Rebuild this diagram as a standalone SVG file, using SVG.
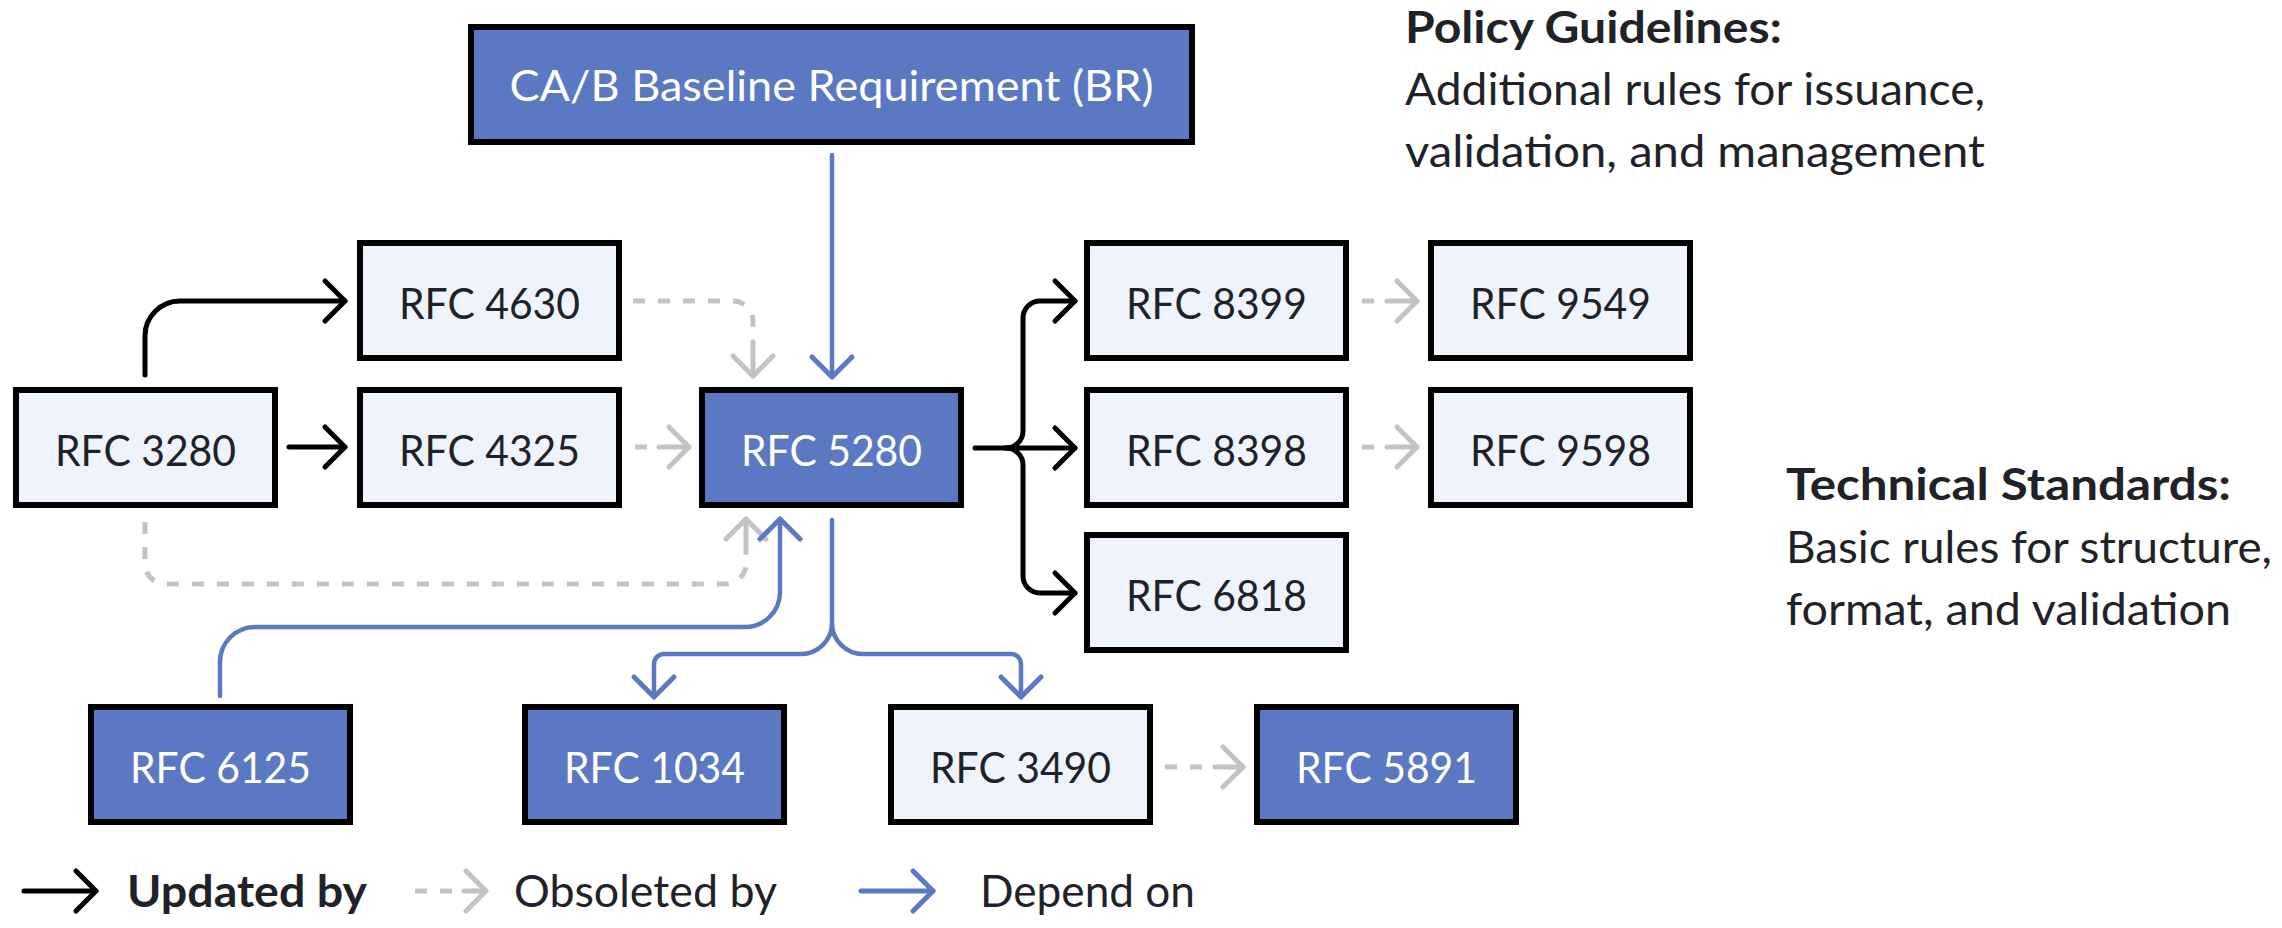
<svg xmlns="http://www.w3.org/2000/svg" width="2282" height="928" viewBox="0 0 2282 928">
<style>
.box rect{stroke:#000;stroke-width:6}
.light rect{fill:#eff3fc}
.blue rect{fill:#5b79c2}
.lbl{font-family:Lato,"Liberation Sans",sans-serif;font-size:43px;text-anchor:middle}
.light .lbl{fill:#1f2328}
.blue .lbl{fill:#ffffff}
.txt{font-family:Lato,"Liberation Sans",sans-serif;font-size:44px;fill:#1f2328}
.b{font-weight:bold}
.k{fill:none;stroke:#000;stroke-width:5;stroke-linecap:round;stroke-linejoin:round}
.g{fill:none;stroke:#c1c3c7;stroke-width:5;stroke-dasharray:12 13}
.gs{fill:none;stroke:#c1c3c7;stroke-width:5;stroke-linecap:round}
.u{fill:none;stroke:#5b79c2;stroke-width:4.5;stroke-linecap:round;stroke-linejoin:round}
</style>
<defs>
<marker id="ak" markerUnits="userSpaceOnUse" orient="auto" refX="0" refY="0" overflow="visible" markerWidth="1" markerHeight="1"><path d="M-20,-20 L0,0 L-20,20" fill="none" stroke="#000" stroke-width="5" stroke-linecap="round" stroke-linejoin="round"/></marker>
<marker id="ag" markerUnits="userSpaceOnUse" orient="auto" refX="0" refY="0" overflow="visible" markerWidth="1" markerHeight="1"><path d="M-20,-20 L0,0 L-20,20" fill="none" stroke="#c1c3c7" stroke-width="5" stroke-linecap="round" stroke-linejoin="round"/></marker>
<marker id="au" markerUnits="userSpaceOnUse" orient="auto" refX="0" refY="0" overflow="visible" markerWidth="1" markerHeight="1"><path d="M-20,-20 L0,0 L-20,20" fill="none" stroke="#5b79c2" stroke-width="5" stroke-linecap="round" stroke-linejoin="round"/></marker>
</defs>
<rect width="2282" height="928" fill="#ffffff"/>

<g id="connectors">
<path class="k" d="M145 375 V336 A35 35 0 0 1 180 301 H345" marker-end="url(#ak)"/>
<path class="k" d="M289 447 H345" marker-end="url(#ak)"/>
<path class="k" d="M975 448 H1075" marker-end="url(#ak)"/>
<path class="k" d="M1006 448 A17 17 0 0 0 1023 431 V318 A17 17 0 0 1 1040 301 H1075" marker-end="url(#ak)"/>
<path class="k" d="M1006 448 A17 17 0 0 1 1023 465 V576 A17 17 0 0 0 1040 593 H1075" marker-end="url(#ak)"/>

<path class="g" d="M633 301 H733 A20 20 0 0 1 753 321 V337"/>
<path class="gs" d="M753 342 V376" marker-end="url(#ag)"/>
<path class="g" d="M635 447 H647"/>
<path class="gs" d="M659 447 H689" marker-end="url(#ag)"/>
<path class="g" d="M145 522 V564 A20 20 0 0 0 165 584 H726 A20 20 0 0 0 746 564 V546"/>
<path class="gs" d="M746 545 V519" marker-end="url(#ag)"/>
<path class="g" d="M1362 301 H1374"/>
<path class="gs" d="M1387 301 H1417" marker-end="url(#ag)"/>
<path class="g" d="M1362 447 H1374"/>
<path class="gs" d="M1387 447 H1417" marker-end="url(#ag)"/>
<path class="g" d="M1165 767 H1202"/>
<path class="gs" d="M1215 767 H1243" marker-end="url(#ag)"/>

<path class="u" d="M832 155 V377" marker-end="url(#au)"/>
<path class="u" d="M220 696 V662 A35 35 0 0 1 255 627 H745 A35 35 0 0 0 780 592 V519" marker-end="url(#au)"/>
<path class="u" d="M832 520 V623 A31 31 0 0 1 801 654 H664 A10 10 0 0 0 654 664 V697" marker-end="url(#au)"/>
<path class="u" d="M832 623 A31 31 0 0 0 863 654 H1011 A10 10 0 0 1 1021 664 V697" marker-end="url(#au)"/>
</g>

<g id="node-br" class="box blue"><rect x="471" y="27" width="721" height="115"/><text class="lbl" x="831.5" y="101" textLength="644" lengthAdjust="spacingAndGlyphs">CA/B Baseline Requirement (BR)</text></g>
<g id="node-rfc4630" class="box light"><rect x="360" y="243" width="259" height="115"/><text class="lbl" x="489.5" y="319" textLength="181" lengthAdjust="spacingAndGlyphs">RFC 4630</text></g>
<g id="node-rfc3280" class="box light"><rect x="16" y="390" width="259" height="115"/><text class="lbl" x="145.5" y="466" textLength="181" lengthAdjust="spacingAndGlyphs">RFC 3280</text></g>
<g id="node-rfc4325" class="box light"><rect x="360" y="390" width="259" height="115"/><text class="lbl" x="489.5" y="466" textLength="181" lengthAdjust="spacingAndGlyphs">RFC 4325</text></g>
<g id="node-rfc5280" class="box blue"><rect x="702" y="390" width="259" height="115"/><text class="lbl" x="831.5" y="466" textLength="181" lengthAdjust="spacingAndGlyphs">RFC 5280</text></g>
<g id="node-rfc8399" class="box light"><rect x="1087" y="243" width="259" height="115"/><text class="lbl" x="1216.5" y="319" textLength="181" lengthAdjust="spacingAndGlyphs">RFC 8399</text></g>
<g id="node-rfc9549" class="box light"><rect x="1431" y="243" width="259" height="115"/><text class="lbl" x="1560.5" y="319" textLength="181" lengthAdjust="spacingAndGlyphs">RFC 9549</text></g>
<g id="node-rfc8398" class="box light"><rect x="1087" y="390" width="259" height="115"/><text class="lbl" x="1216.5" y="466" textLength="181" lengthAdjust="spacingAndGlyphs">RFC 8398</text></g>
<g id="node-rfc9598" class="box light"><rect x="1431" y="390" width="259" height="115"/><text class="lbl" x="1560.5" y="466" textLength="181" lengthAdjust="spacingAndGlyphs">RFC 9598</text></g>
<g id="node-rfc6818" class="box light"><rect x="1087" y="535" width="259" height="115"/><text class="lbl" x="1216.5" y="611" textLength="181" lengthAdjust="spacingAndGlyphs">RFC 6818</text></g>
<g id="node-rfc6125" class="box blue"><rect x="91" y="707" width="259" height="115"/><text class="lbl" x="220.5" y="783" textLength="181" lengthAdjust="spacingAndGlyphs">RFC 6125</text></g>
<g id="node-rfc1034" class="box blue"><rect x="525" y="707" width="259" height="115"/><text class="lbl" x="654.5" y="783" textLength="181" lengthAdjust="spacingAndGlyphs">RFC 1034</text></g>
<g id="node-rfc3490" class="box light"><rect x="891" y="707" width="259" height="115"/><text class="lbl" x="1020.5" y="783" textLength="181" lengthAdjust="spacingAndGlyphs">RFC 3490</text></g>
<g id="node-rfc5891" class="box blue"><rect x="1257" y="707" width="259" height="115"/><text class="lbl" x="1386.5" y="783" textLength="181" lengthAdjust="spacingAndGlyphs">RFC 5891</text></g>

<g id="note-policy">
<text class="txt b" x="1405" y="43" textLength="377" lengthAdjust="spacingAndGlyphs">Policy Guidelines:</text>
<text class="txt" x="1405" y="105" textLength="580" lengthAdjust="spacingAndGlyphs">Additional rules for issuance,</text>
<text class="txt" x="1405" y="167" textLength="580" lengthAdjust="spacingAndGlyphs">validation, and management</text>
</g>
<g id="note-technical">
<text class="txt b" x="1786" y="500" textLength="445" lengthAdjust="spacingAndGlyphs">Technical Standards:</text>
<text class="txt" x="1786" y="563" textLength="486" lengthAdjust="spacingAndGlyphs">Basic rules for structure,</text>
<text class="txt" x="1786" y="625" textLength="445" lengthAdjust="spacingAndGlyphs">format, and validation</text>
</g>

<g id="legend">
<path class="k" d="M24 891 H96" marker-end="url(#ak)"/>
<text class="txt b" x="127" y="907" textLength="240" lengthAdjust="spacingAndGlyphs">Updated by</text>
<path class="g" d="M415 891 H453"/>
<path class="gs" d="M464 891 H486" marker-end="url(#ag)"/>
<text class="txt" x="514" y="907" textLength="263" lengthAdjust="spacingAndGlyphs">Obsoleted by</text>
<path class="u" style="stroke-width:5" d="M861 891 H933" marker-end="url(#au)"/>
<text class="txt" x="980" y="907" textLength="215" lengthAdjust="spacingAndGlyphs">Depend on</text>
</g>
</svg>
